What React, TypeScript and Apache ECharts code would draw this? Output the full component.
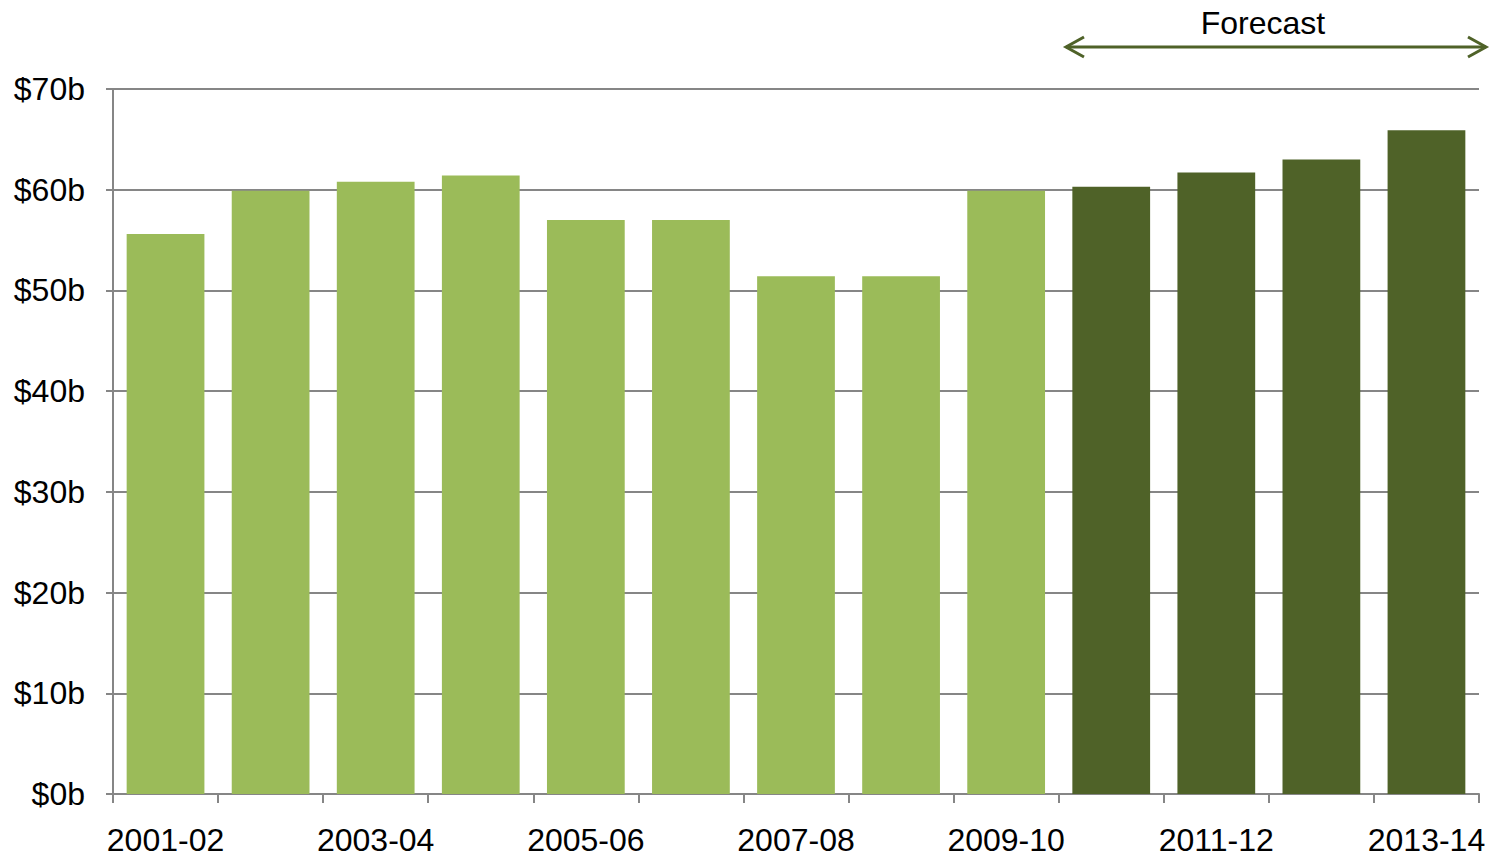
import { useEffect, useRef } from 'react';
import * as echarts from 'echarts';

const categories = ['2001-02', '2002-03', '2003-04', '2004-05', '2005-06', '2006-07', '2007-08', '2008-09', '2009-10', '2010-11', '2011-12', '2012-13', '2013-14'];
const values = [55.6, 59.9, 60.8, 61.4, 57.0, 57.0, 51.4, 51.4, 59.9, 60.3, 61.7, 63.0, 65.9];
const forecastFrom = 9;

const light = '#9BBB59';
const dark = '#4F6228';
const font = '"Liberation Sans", Arial, sans-serif';

export default function App() {
  const chartRef = useRef<HTMLDivElement>(null);

  useEffect(() => {
    if (!chartRef.current) return;
    const chart = echarts.init(chartRef.current, undefined, { renderer: 'svg' });

    const option: echarts.EChartsOption = {
      animation: false,
      grid: { left: 113, right: 16, top: 89, bottom: 64 },
      xAxis: {
        type: 'category',
        data: categories,
        axisLine: { lineStyle: { color: '#868686', width: 2 } },
        axisTick: { show: true, interval: 0, length: 9, lineStyle: { color: '#868686', width: 2 } },
        axisLabel: { interval: 1, color: '#000', fontFamily: font, fontSize: 32, margin: 30, lineHeight: 32 },
      },
      yAxis: {
        type: 'value',
        min: 0,
        max: 70,
        interval: 10,
        axisLine: { show: true, lineStyle: { color: '#868686', width: 2 } },
        axisTick: { show: true, length: 7, lineStyle: { color: '#868686', width: 2 } },
        splitLine: { lineStyle: { color: '#868686', width: 2 } },
        axisLabel: { formatter: '${value}b', color: '#000', fontFamily: font, fontSize: 32, margin: 28 },
      },
      series: [
        {
          type: 'bar',
          barWidth: '74%',
          data: values.map((v, i) => ({ value: v, itemStyle: { color: i >= forecastFrom ? dark : light } })),
        },
      ],
      graphic: [
        { type: 'line', shape: { x1: 1066, y1: 47, x2: 1486, y2: 47 }, style: { stroke: dark, lineWidth: 3 } },
        { type: 'polyline', shape: { points: [[1084, 37], [1066, 47], [1084, 57]] }, style: { stroke: dark, lineWidth: 3, fill: 'none' } },
        { type: 'polyline', shape: { points: [[1468, 37], [1486, 47], [1468, 57]] }, style: { stroke: dark, lineWidth: 3, fill: 'none' } },
        { type: 'text', x: 1263, y: 23, style: { text: 'Forecast', fontFamily: font, fontSize: 32, fill: '#000', align: 'center', verticalAlign: 'middle' } },
      ],
    };

    chart.setOption(option);
    return () => chart.dispose();
  }, []);

  return <div ref={chartRef} style={{ position: 'fixed', left: 0, top: 0, width: 1495, height: 858, background: '#fff' }} />;
}
